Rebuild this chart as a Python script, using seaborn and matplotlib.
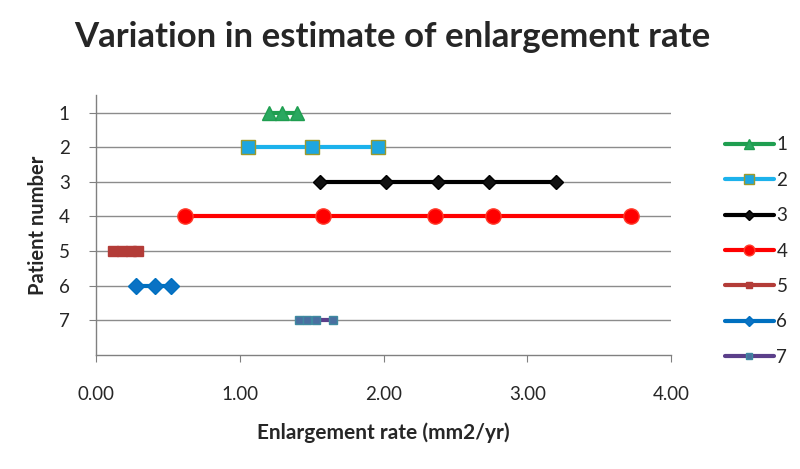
import pandas as pd
import matplotlib
matplotlib.use('Agg')
import matplotlib.pyplot as plt
import seaborn as sns

sns.set_style('white')
plt.rcParams['font.family'] = ['Lato', 'DejaVu Sans']

# enlargement rate estimates per patient (mm2/yr)
patients = ['1', '2', '3', '4', '5', '6', '7']
rates_1 = [1.20, 1.29, 1.40]
rates_2 = [1.06, 1.50, 1.96]
rates_3 = [1.56, 2.02, 2.38, 2.73, 3.20]
rates_4 = [0.62, 1.58, 2.36, 2.76, 3.72]
rates_5 = [0.12, 0.18, 0.24, 0.29]
rates_6 = [0.28, 0.41, 0.52]
rates_7 = [1.41, 1.47, 1.53, 1.65]
allRates = [rates_1, rates_2, rates_3, rates_4, rates_5, rates_6, rates_7]

xticks = [0, 1, 2, 3, 4]
xtickLabels = ['0.00', '1.00', '2.00', '3.00', '4.00']

#build long table for seaborn
rows = []
for p, rs in zip(patients, allRates):
    for r in rs:
        rows.append({'Patient': p, 'Rate': r, 'PatientNo': int(p)})
df = pd.DataFrame(rows)

#line colour, marker, marker face, marker edge, marker size, line width
styles = {
    '1': ('#1f9e50', '^', '#2aa860', '#1f9e50', 10, 3),
    '2': ('#1cb2ec', 's', '#1ea6df', '#9c9a2c', 10, 3),
    '3': ('#000000', 'D', '#111111', '#000000', 7, 3),
    '4': ('#ff0000', 'o', '#ff0000', '#ff3a2a', 11, 3),
    '5': ('#b33c38', 's', '#b33c38', '#b33c38', 7, 3),
    '6': ('#0070c0', 'D', '#0a72c4', '#0070c0', 8, 3),
    '7': ('#5b3f8a', 's', '#4a6fa0', '#3f8aa0', 6, 3),
}

fig = plt.figure(figsize=(8, 4.69), dpi=100)
ax = fig.add_axes([0.12, 0.243, 0.719, 0.554])

for p in patients:
    col, mk, fc, ec, ms, lw = styles[p]
    sns.lineplot(data=df[df['Patient'] == p], x='Rate', y='PatientNo', ax=ax,
                 color=col, marker=mk, markerfacecolor=fc, markeredgecolor=ec,
                 markersize=ms, markeredgewidth=1, linewidth=lw, estimator=None,
                 label=p, zorder=3)

ax.set_xlim(0, 4)
ax.set_ylim(8, 0.5)
ax.set_yticks(range(1, 8))
ax.set_yticklabels(patients, fontsize=13.5)
ax.set_xticks(xticks)
ax.set_xticklabels(xtickLabels, fontsize=13.5)
ax.tick_params(axis='x', pad=17, length=5, direction='out', color='#808080', bottom=True)
ax.tick_params(axis='y', pad=14, length=5, direction='out', color='#808080', left=True)

ax.yaxis.grid(True, color='#8c8c8c', linewidth=1)
ax.set_axisbelow(True)
for s in ['top', 'right']:
    ax.spines[s].set_visible(False)
for s in ['left', 'bottom']:
    ax.spines[s].set_color('#808080')
    ax.spines[s].set_linewidth(1)

ax.set_xlabel('Enlargement rate (mm2/yr)', fontsize=15, fontweight='bold', labelpad=14)
ax.set_ylabel('Patient number', fontsize=14.5, fontweight='bold', labelpad=8)
fig.suptitle('Variation in estimate of enlargement rate', fontsize=25,
             fontweight='bold', x=0.49, y=0.955)

handles, labels = ax.get_legend_handles_labels()
ax.get_legend().remove()
fig.legend(handles, labels, loc='upper left', bbox_to_anchor=(0.885, 0.745),
           frameon=False, fontsize=13.5, labelspacing=0.98, handlelength=2.6,
           handletextpad=0.15, markerscale=0.7)

fig.savefig('out.png', dpi=100)
